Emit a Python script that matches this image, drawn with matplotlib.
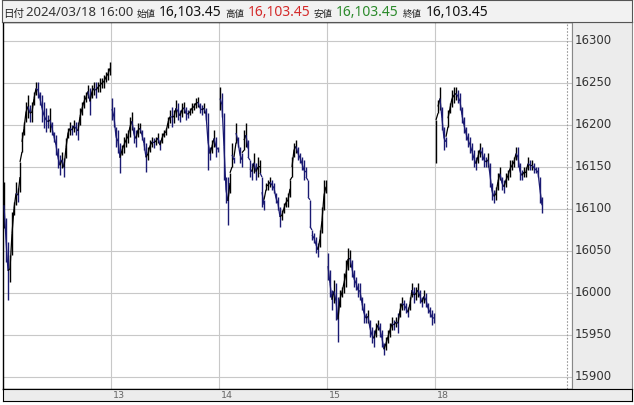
import matplotlib
matplotlib.use("Agg")
import matplotlib.pyplot as plt
from matplotlib.collections import LineCollection
from matplotlib.transforms import blended_transform_factory

W, H = 634, 405

# session days shown on the x axis (first one has no label)
DAYS = ["12", "13", "14", "15", "18"]
BARS_PER_DAY = 54

# bar highs / lows per session
HI_12 = [16132, 16089, 16061, 16045, 16096, 16108, 16132, 16125, 16156, 16192, 16204, 16227, 16236, 16224,
         16227, 16239, 16251, 16251, 16239, 16236, 16227, 16220, 16212, 16220, 16204, 16192, 16188, 16173,
         16164, 16168, 16161, 16185, 16196, 16204, 16200, 16206, 16204, 16204, 16220, 16227, 16236, 16239,
         16248, 16244, 16248, 16251, 16251, 16251, 16256, 16256, 16260, 16263, 16268, 16275]
LO_12 = [16077, 16037, 15992, 16013, 16045, 16093, 16105, 16108, 16120, 16168, 16188, 16204, 16208, 16204,
         16204, 16224, 16236, 16232, 16224, 16204, 16196, 16192, 16196, 16192, 16188, 16180, 16164, 16149,
         16140, 16149, 16138, 16161, 16185, 16188, 16188, 16192, 16188, 16182, 16200, 16212, 16220, 16227,
         16232, 16212, 16232, 16236, 16232, 16239, 16239, 16244, 16244, 16251, 16254, 16260]
HI_13 = [16232, 16221, 16198, 16194, 16179, 16176, 16186, 16190, 16194, 16210, 16215, 16198, 16194, 16202,
         16202, 16194, 16186, 16179, 16174, 16182, 16186, 16185, 16186, 16190, 16182, 16190, 16194, 16196,
         16210, 16218, 16221, 16218, 16230, 16226, 16218, 16226, 16227, 16221, 16218, 16220, 16226, 16226,
         16232, 16233, 16226, 16224, 16226, 16220, 16214, 16174, 16182, 16194, 16186, 16174]
LO_13 = [16206, 16198, 16174, 16167, 16143, 16164, 16167, 16174, 16179, 16186, 16194, 16179, 16174, 16186,
         16190, 16182, 16170, 16144, 16158, 16168, 16174, 16173, 16176, 16179, 16170, 16179, 16186, 16188,
         16196, 16202, 16198, 16202, 16210, 16206, 16204, 16210, 16214, 16206, 16208, 16212, 16214, 16218,
         16220, 16221, 16214, 16212, 16214, 16206, 16146, 16158, 16167, 16174, 16162, 16168]
HI_14 = [16245, 16238, 16214, 16138, 16138, 16143, 16179, 16162, 16202, 16186, 16174, 16167, 16194, 16202,
         16182, 16158, 16155, 16167, 16155, 16162, 16158, 16138, 16111, 16131, 16134, 16138, 16134, 16131,
         16119, 16114, 16102, 16099, 16107, 16114, 16119, 16134, 16162, 16179, 16182, 16174, 16167, 16162,
         16158, 16150, 16134, 16111, 16075, 16071, 16067, 16060, 16075, 16102, 16134, 16134]
LO_14 = [16218, 16210, 16134, 16107, 16081, 16119, 16150, 16155, 16179, 16174, 16155, 16150, 16170, 16174,
         16162, 16138, 16134, 16143, 16134, 16138, 16143, 16102, 16099, 16123, 16123, 16126, 16123, 16119,
         16107, 16099, 16079, 16087, 16095, 16102, 16102, 16114, 16138, 16162, 16167, 16158, 16155, 16146,
         16134, 16138, 16114, 16079, 16063, 16060, 16048, 16043, 16055, 16071, 16099, 16119]
HI_15 = [16048, 16027, 16004, 16016, 16012, 15995, 16004, 16007, 16024, 16039, 16054, 16051, 16039, 16027,
         16019, 16012, 16012, 15995, 15988, 15976, 15980, 15968, 15960, 15956, 15964, 15968, 15964, 15956,
         15940, 15948, 15956, 15964, 15971, 15968, 15971, 15976, 15988, 15995, 15992, 15988, 15983, 15995,
         16012, 16007, 16007, 16012, 16004, 15995, 16004, 16000, 15988, 15983, 15980, 15976]
LO_15 = [16016, 15995, 15980, 15988, 15968, 15942, 15983, 15995, 16000, 16007, 16027, 16031, 16019, 16007,
         16004, 15995, 15992, 15980, 15964, 15964, 15964, 15948, 15940, 15936, 15948, 15956, 15948, 15936,
         15926, 15932, 15940, 15948, 15956, 15956, 15960, 15952, 15971, 15980, 15980, 15976, 15971, 15980,
         15995, 15988, 15992, 15995, 15988, 15983, 15988, 15983, 15976, 15971, 15962, 15964]
HI_18 = [16206, 16230, 16245, 16221, 16198, 16186, 16218, 16226, 16242, 16245, 16245, 16242, 16238, 16221,
         16210, 16198, 16190, 16186, 16179, 16170, 16162, 16170, 16179, 16174, 16167, 16162, 16167, 16155,
         16131, 16123, 16126, 16143, 16150, 16138, 16134, 16143, 16146, 16158, 16158, 16162, 16174, 16174,
         16155, 16146, 16150, 16150, 16162, 16158, 16158, 16155, 16150, 16150, 16138, 16114]
LO_18 = [16155, 16214, 16218, 16194, 16170, 16174, 16198, 16214, 16221, 16226, 16230, 16226, 16218, 16202,
         16190, 16182, 16174, 16167, 16158, 16150, 16146, 16155, 16162, 16158, 16150, 16150, 16150, 16126,
         16111, 16107, 16111, 16123, 16134, 16123, 16119, 16126, 16134, 16138, 16146, 16150, 16158, 16150,
         16134, 16134, 16138, 16138, 16146, 16146, 16146, 16143, 16143, 16138, 16107, 16095]

Y_TICKS = [15900, 15950, 16000, 16050, 16100, 16150, 16200, 16250, 16300]
HEADER_DATE = "2024/03/18 16:00"
OPEN_V = HIGH_V = LOW_V = CLOSE_V = "16,103.45"

UP, DOWN = "#000000", "#1a1a72"

hi = HI_12 + HI_13 + HI_14 + HI_15 + HI_18
lo = LO_12 + LO_13 + LO_14 + LO_15 + LO_18
xs = [d * BARS_PER_DAY + i + 0.5 for d in range(len(DAYS)) for i in range(BARS_PER_DAY)]
mid = [(a + b) / 2 for a, b in zip(hi, lo)]
cols = [UP] + [UP if mid[k] >= mid[k - 1] else DOWN for k in range(1, len(mid))]

# value range of the plot area (16300 gridline sits 19px below its top edge, 50 pts per 42px)
YT = 16300 + 19 * 50 / 42
YB = 16300 - 348 * 50 / 42
XR = 284.5  # 2px per bar slot

fig = plt.figure(figsize=(W / 100, H / 100), dpi=100)
fig.patch.set_facecolor("white")

def px_axes(x0, y0, x1, y1, **kw):
    return fig.add_axes([x0 / W, 1 - y1 / H, (x1 - x0) / W, (y1 - y0) / H], **kw)

# --- main plot ---
ax = px_axes(3, 22, 572, 389)
ax.set_xlim(0, XR); ax.set_ylim(YB, YT)
for v in Y_TICKS:
    ax.axhline(v, color="#c8c8c8", lw=0.8, zorder=1)
for d in range(1, len(DAYS)):
    ax.axvline(d * BARS_PER_DAY, color="#c8c8c8", lw=0.8, zorder=1)
ax.axvline(282, color="#999999", lw=0.8, ls=(0, (1.5, 1.5)), zorder=1)
ax.vlines(xs, lo, hi, colors=cols, lw=1.0, zorder=3)
# join neighbouring bars inside a session so the trace reads continuous
segs, scol = [], []
for k in range(1, len(xs)):
    if k % BARS_PER_DAY == 0:
        continue
    if lo[k] > hi[k - 1]:
        segs.append([(xs[k - 1], hi[k - 1]), (xs[k], lo[k])])
    elif hi[k] < lo[k - 1]:
        segs.append([(xs[k - 1], lo[k - 1]), (xs[k], hi[k])])
    else:
        segs.append([(xs[k - 1], mid[k - 1]), (xs[k], mid[k])])
    scol.append(cols[k])
ax.add_collection(LineCollection(segs, colors=scol, lw=0.9, zorder=3))
ax.set_xticks([]); ax.set_yticks([])
for s in ["left", "bottom", "top"]:
    ax.spines[s].set_color("#000000"); ax.spines[s].set_linewidth(1.0)
ax.spines["right"].set_color("#888888"); ax.spines["right"].set_linewidth(0.8)

# --- right price panel ---
axr = px_axes(572, 22, 632, 389, facecolor="#ececec")
axr.set_ylim(YB, YT); axr.set_xticks([]); axr.set_yticks([])
for s in axr.spines.values():
    s.set_color("#888888"); s.set_linewidth(0.8)
tr = blended_transform_factory(axr.transAxes, axr.transData)
for v in Y_TICKS:
    axr.text(0.05, v, f"{v}", transform=tr, va="center", ha="left",
             fontsize=8.5, color="#333333", family="DejaVu Sans")

# --- bottom date strip ---
axb = px_axes(3, 389, 632, 401, facecolor="#ececec")
axb.set_xlim(0, 314.5); axb.set_ylim(0, 1); axb.set_xticks([]); axb.set_yticks([])
for s in axb.spines.values():
    s.set_color("#000000"); s.set_linewidth(0.8)
for d in range(1, len(DAYS)):
    axb.text(d * BARS_PER_DAY + 1, 0.45, DAYS[d], va="center", ha="left",
             fontsize=6.8, color="#666666", family="DejaVu Sans")

# --- header ---
axh = px_axes(2, 0, 632, 22, facecolor="#f2f2f2")
axh.set_xticks([]); axh.set_yticks([])
for s in axh.spines.values():
    s.set_color("#555555"); s.set_linewidth(0.8)

JP = ["Noto Sans CJK JP", "DejaVu Sans"]
NUM = ["Noto Sans", "DejaVu Sans"]
base = 1 - 16.5 / H
def htxt(x, s, **kw):
    fig.text(x / W, base, s, va="baseline", ha="left", **kw)

htxt(3, "日付", fontsize=7.6, family=JP, color="#222222")
htxt(26, HEADER_DATE, fontsize=9.5, family=NUM, color="#333333")
htxt(137, "始値", fontsize=6.8, family=JP, color="#222222")
htxt(159, OPEN_V, fontsize=10, family=NUM, weight="bold", color="#111111")
htxt(225, "高値", fontsize=6.8, family=JP, color="#222222")
htxt(248, HIGH_V, fontsize=10, family=NUM, weight="bold", color="#d42a2a")
htxt(314, "安値", fontsize=6.8, family=JP, color="#222222")
htxt(336, LOW_V, fontsize=10, family=NUM, weight="bold", color="#2b8a2b")
htxt(403, "終値", fontsize=6.8, family=JP, color="#222222")
htxt(426, CLOSE_V, fontsize=10, family=NUM, weight="bold", color="#111111")

fig.savefig("out.png", dpi=100)
